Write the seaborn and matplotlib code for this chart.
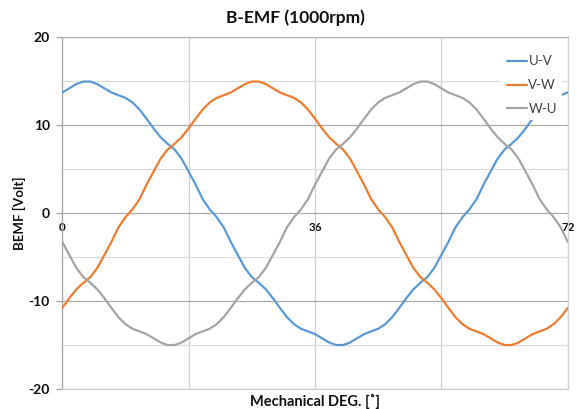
import matplotlib
matplotlib.use("Agg")
import matplotlib.pyplot as plt
import seaborn as sns
import pandas as pd

# ---- data ----
deg = list(range(73))  # mechanical degrees 0..72

uv = [13.73, 14.2, 14.68, 14.97, 14.97, 14.68, 14.2, 13.73, 13.42, 13.12,
      12.6, 11.8, 10.75, 9.65, 8.65, 7.9, 7.25, 6.2, 4.73, 3.25,
      1.6, 0.45, -0.45, -1.6, -3.25, -4.73, -6.2, -7.25, -7.9, -8.65,
      -9.65, -10.75, -11.8, -12.6, -13.12, -13.42, -13.73, -14.2, -14.68, -14.97,
      -14.97, -14.68, -14.2, -13.73, -13.42, -13.12, -12.6, -11.8, -10.75, -9.65,
      -8.65, -7.9, -7.25, -6.2, -4.73, -3.25, -1.6, -0.45, 0.45, 1.6,
      3.25, 4.73, 6.2, 7.25, 7.9, 8.65, 9.65, 10.75, 11.8, 12.6,
      13.12, 13.42, 13.73]

vw = [-10.75, -9.65, -8.65, -7.9, -7.25, -6.2, -4.73, -3.25, -1.6, -0.45,
      0.45, 1.6, 3.25, 4.73, 6.2, 7.25, 7.9, 8.65, 9.65, 10.75,
      11.8, 12.6, 13.12, 13.42, 13.73, 14.2, 14.68, 14.97, 14.97, 14.68,
      14.2, 13.73, 13.42, 13.12, 12.6, 11.8, 10.75, 9.65, 8.65, 7.9,
      7.25, 6.2, 4.73, 3.25, 1.6, 0.45, -0.45, -1.6, -3.25, -4.73,
      -6.2, -7.25, -7.9, -8.65, -9.65, -10.75, -11.8, -12.6, -13.12, -13.42,
      -13.73, -14.2, -14.68, -14.97, -14.97, -14.68, -14.2, -13.73, -13.42, -13.12,
      -12.6, -11.8, -10.75]

wu = [-3.25, -4.73, -6.2, -7.25, -7.9, -8.65, -9.65, -10.75, -11.8, -12.6,
      -13.12, -13.42, -13.73, -14.2, -14.68, -14.97, -14.97, -14.68, -14.2, -13.73,
      -13.42, -13.12, -12.6, -11.8, -10.75, -9.65, -8.65, -7.9, -7.25, -6.2,
      -4.73, -3.25, -1.6, -0.45, 0.45, 1.6, 3.25, 4.73, 6.2, 7.25,
      7.9, 8.65, 9.65, 10.75, 11.8, 12.6, 13.12, 13.42, 13.73, 14.2,
      14.68, 14.97, 14.97, 14.68, 14.2, 13.73, 13.42, 13.12, 12.6, 11.8,
      10.75, 9.65, 8.65, 7.9, 7.25, 6.2, 4.73, 3.25, 1.6, 0.45,
      -0.45, -1.6, -3.25]

series_names = ["U-V", "V-W", "W-U"]
series_colors = ["#5B9BD5", "#ED7D31", "#A5A5A5"]
y_major = [-20, -10, 0, 10, 20]
y_minor = [-15, -5, 5, 15]
x_grid = [0, 18, 36, 54, 72]
x_labels = [0, 36, 72]

title = "B-EMF (1000rpm)"
xlabel = "Mechanical DEG. [˚]"
ylabel = "BEMF [Volt]"

# ---- figure ----
sns.set_theme(style="white")
plt.rcParams["font.family"] = ["Lato", "DejaVu Sans"]

fig = plt.figure(figsize=(5.81, 4.09), dpi=100)
ax = fig.add_axes([0.1072, 0.0482, 0.870, 0.8606])

df = pd.DataFrame({
    "deg": deg * 3,
    "bemf": uv + vw + wu,
    "phase": [n for n in series_names for _ in deg],
})
sns.lineplot(data=df, x="deg", y="bemf", hue="phase",
             palette=dict(zip(series_names, series_colors)),
             linewidth=1.6, ax=ax, legend=True, zorder=3)

ax.set_xlim(0, 72)
ax.set_ylim(-20, 20)
ax.set_xticks(x_grid)
ax.set_xticklabels([])
ax.tick_params(axis="x", length=0)
ax.set_yticks(y_major)
ax.set_yticks(y_minor, minor=True)
ax.set_yticklabels([str(v) for v in y_major], fontweight="bold", fontsize=10)
ax.tick_params(axis="y", which="major", length=4, width=0.9, color="#a6a6a6",
               pad=5, labelcolor="#111111", left=True)
ax.tick_params(axis="y", which="minor", length=0)

ax.yaxis.grid(True, which="major", color="#ababab", linewidth=0.9)
ax.yaxis.grid(True, which="minor", color="#dcdcdc", linewidth=0.9)
ax.xaxis.grid(True, which="major", color="#d0d0d0", linewidth=0.9)
ax.set_axisbelow(True)

for side, col in [("left", "#a6a6a6"), ("top", "#b4b4b4"),
                  ("right", "#d0d0d0"), ("bottom", "#d0d0d0")]:
    ax.spines[side].set_color(col)
    ax.spines[side].set_linewidth(0.9)

# labels of the horizontal axis, which crosses at zero
sec = ax.secondary_xaxis(0.5)
sec.set_xticks(x_labels)
sec.set_xticklabels([str(v) for v in x_labels], fontweight="bold", fontsize=8.5)
sec.tick_params(axis="x", length=0, pad=6, labelcolor="#111111",
                bottom=True, top=False, labelbottom=True, labeltop=False)
for s in sec.spines.values():
    s.set_visible(False)

ax.set_xlabel(xlabel, fontweight="bold", fontsize=10.5, color="#111111")
ax.xaxis.set_label_coords(0.5, -0.012)
ax.set_ylabel(ylabel, fontweight="bold", fontsize=9.5, color="#111111")
ax.yaxis.set_label_coords(-0.072, 0.5)

fig.text(0.509, 0.956, title, ha="center", va="center",
         fontweight="bold", fontsize=12.5, color="#111111")

handles, labels = ax.get_legend_handles_labels()
leg = ax.legend(handles, labels, loc="upper right", bbox_to_anchor=(0.989, 0.964),
                frameon=True, facecolor="white", edgecolor="none", framealpha=1,
                fancybox=False, fontsize=9.5, handlelength=1.55, handletextpad=0.1,
                labelspacing=0.9, borderpad=0.4, borderaxespad=0)
leg.set_zorder(5)
for t in leg.get_texts():
    t.set_color("#404040")

fig.savefig("out.png", dpi=100)
